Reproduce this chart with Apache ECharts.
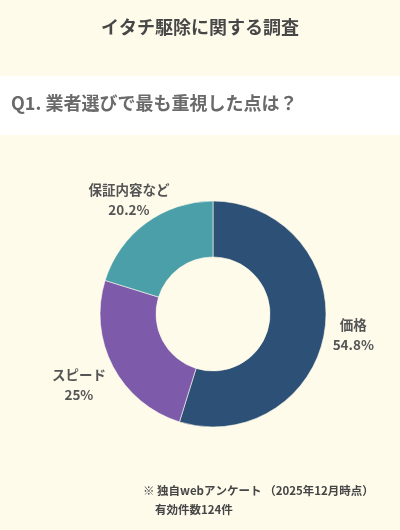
<!DOCTYPE html>
<html><head><meta charset="utf-8">
<script src="https://cdn.jsdelivr.net/npm/echarts@6/dist/echarts.min.js"></script>
<style>html,body{margin:0;padding:0;background:#fefbeb;}#c{width:400px;height:530px;}</style>
</head><body><div id="c"></div>
<script>
const categories = ['価格', 'スピード', '保証内容など'];
const values = [54.8, 25, 20.2];
const colors = ['#2d5076', '#7e5aab', '#4b9fa9'];
const titleText = 'イタチ駆除に関する調査';
const questionText = 'Q1. 業者選びで最も重視した点は？';
const noteLines = ['※ 独自webアンケート （2025年12月時点）', '有効件数124件'];

const FONT = '"Noto Sans CJK JP", "Noto Sans", sans-serif';
const CX = 213, CY = 314, R_IN = 57, R_OUT = 113, GAP = 8;
const total = values.reduce((a, b) => a + b, 0);

const chart = echarts.init(document.getElementById('c'));
chart.setOption({
  backgroundColor: '#fefbeb',
  animation: false,
  title: [
    { text: titleText, left: 'center', top: 18, padding: 0,
      textStyle: { fontFamily: FONT, fontSize: 18, fontWeight: 'bold', color: '#474747' } },
    { text: questionText, left: 11, top: 94, padding: 0,
      textStyle: { fontFamily: FONT, fontSize: 18, fontWeight: 'bold', color: '#6a6a6a' } },
    { text: noteLines[0], left: 143, top: 485, padding: 0,
      textStyle: { fontFamily: FONT, fontSize: 11.5, fontWeight: 'bold', color: '#454545' } },
    { text: noteLines[1], left: 155, top: 504, padding: 0,
      textStyle: { fontFamily: FONT, fontSize: 11.5, fontWeight: 'bold', color: '#454545' } }
  ],
  graphic: [
    { type: 'rect', z: -1, shape: { x: 0, y: 76, width: 400, height: 59 }, style: { fill: '#ffffff' } }
  ],
  series: [{
    type: 'pie',
    center: [CX, CY],
    radius: [R_IN, R_OUT],
    startAngle: 90,
    clockwise: true,
    avoidLabelOverlap: false,
    data: categories.map((n, i) => ({ name: n, value: values[i], itemStyle: { color: colors[i] } })),
    itemStyle: { borderColor: '#fefbeb', borderWidth: 0.6 },
    label: {
      show: true,
      position: 'outside',
      formatter: p => '{a|' + p.name + '}\n{a|' + p.value + '%}',
      rich: { a: { align: 'center', fontFamily: FONT, fontSize: 13.5, fontWeight: 'bold', color: '#555555', lineHeight: 20 } }
    },
    labelLine: { show: false, length: 6, length2: 0 },
    labelLayout: function (params) {
      const i = params.dataIndex;
      let before = 0;
      for (let k = 0; k < i; k++) before += values[k];
      const midFrac = (before + values[i] / 2) / total;
      const ang = Math.PI / 2 - midFrac * 2 * Math.PI;
      const dx = Math.cos(ang), dy = -Math.sin(ang);
      const hw = params.labelRect.width / 2, hh = params.labelRect.height / 2;
      const ex = Math.abs(dx) > 1e-6 ? hw / Math.abs(dx) : Infinity;
      const ey = Math.abs(dy) > 1e-6 ? hh / Math.abs(dy) : Infinity;
      const d = R_OUT + GAP + Math.min(ex, ey);
      return { x: CX + dx * d, y: CY + dy * d, align: 'center', verticalAlign: 'middle' };
    }
  }]
});
</script></body></html>
